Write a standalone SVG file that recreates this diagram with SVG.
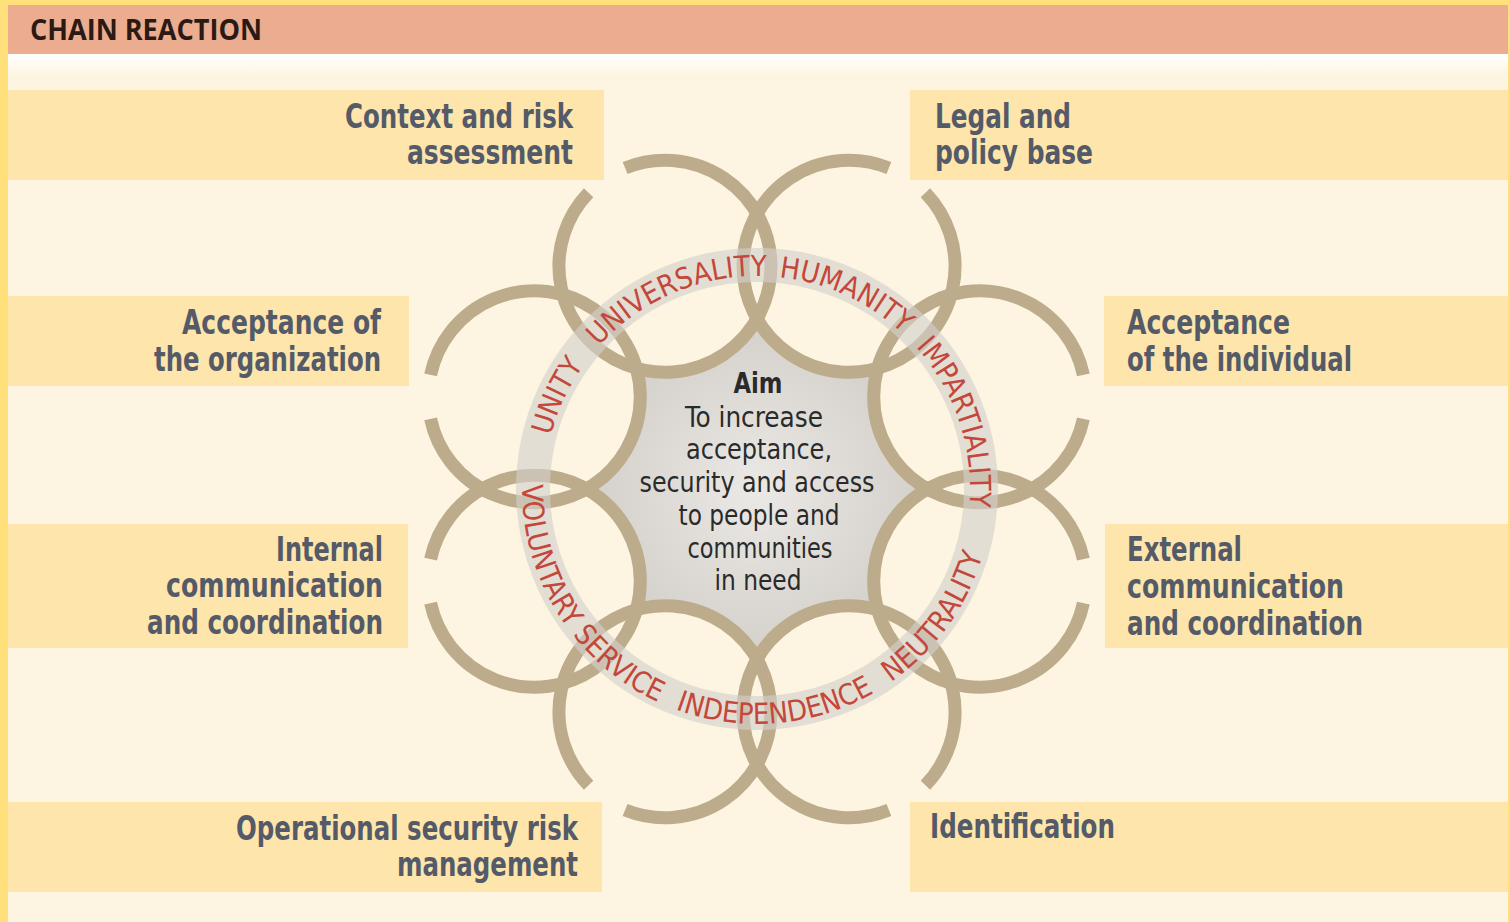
<svg xmlns="http://www.w3.org/2000/svg" width="1510" height="922" viewBox="0 0 1510 922">
<style>
.band{fill:#fde5ab}
.lbl{font-family:"Liberation Sans Narrow","DejaVu Sans Condensed","Liberation Sans",sans-serif;font-weight:bold;font-size:33px;fill:#545a68}
.r{text-anchor:end}
.link{fill:none;stroke:#bdac8c;stroke-width:13}
.prin{font-family:"Liberation Sans Narrow","DejaVu Sans Condensed","Liberation Sans",sans-serif;font-size:29px;fill:#c4473b}
.aim{font-family:"Liberation Sans Narrow","DejaVu Sans Condensed","Liberation Sans",sans-serif;font-size:28px;fill:#2a2a2a;text-anchor:middle}
</style>
<defs>
<linearGradient id="hdrfade" x1="0" y1="0" x2="0" y2="1">
<stop offset="0" stop-color="#ffffff"/>
<stop offset="1" stop-color="#fdf5e1"/>
</linearGradient>
<radialGradient id="core" cx="757" cy="489" r="175" gradientUnits="userSpaceOnUse">
<stop offset="0" stop-color="#ebe9e6"/>
<stop offset="1" stop-color="#d3cfc9"/>
</radialGradient>
<mask id="coremask" maskUnits="userSpaceOnUse" x="0" y="0" width="1510" height="922">
<rect x="0" y="0" width="1510" height="922" fill="#fff"/>
<g fill="#000">
<circle cx="664.8" cy="266.3" r="106"/>
<circle cx="849.2" cy="266.3" r="106"/>
<circle cx="979.7" cy="396.8" r="106"/>
<circle cx="979.7" cy="581.2" r="106"/>
<circle cx="849.2" cy="711.7" r="106"/>
<circle cx="664.8" cy="711.7" r="106"/>
<circle cx="534.3" cy="581.2" r="106"/>
<circle cx="534.3" cy="396.8" r="106"/>
</g>
</mask>
<path id="ringTop" d="M 757 702 A 213 213 0 1 1 757 276 A 213 213 0 1 1 757 702"/>
<path id="ringBot" d="M 757 254 A 235 235 0 1 0 757 724 A 235 235 0 1 0 757 254"/>
</defs>

<rect x="0" y="0" width="1510" height="922" fill="#ffe07a"/>
<rect x="8" y="5" width="1500" height="917" fill="#fdf5e1"/>
<rect x="8" y="54" width="1500" height="22" fill="url(#hdrfade)"/>
<g id="header">
<rect x="8" y="5" width="1500" height="49" fill="#ecac90"/>
<text x="30" y="40" font-family="'Open Sans','Liberation Sans',sans-serif" font-weight="bold" font-size="29" fill="#2b1a14" textLength="232" lengthAdjust="spacingAndGlyphs">CHAIN REACTION</text>
</g>

<g id="node-context">
<rect class="band" x="8" y="90" width="596" height="90"/>
<text class="lbl r" x="573" y="128" textLength="228" lengthAdjust="spacingAndGlyphs">Context and risk</text>
<text class="lbl r" x="573" y="164" textLength="166" lengthAdjust="spacingAndGlyphs">assessment</text>
</g>
<g id="node-legal">
<rect class="band" x="910" y="90" width="598" height="90"/>
<text class="lbl" x="935" y="128" textLength="136" lengthAdjust="spacingAndGlyphs">Legal and</text>
<text class="lbl" x="935" y="164" textLength="158" lengthAdjust="spacingAndGlyphs">policy base</text>
</g>
<g id="node-acc-org">
<rect class="band" x="8" y="296" width="401" height="90"/>
<text class="lbl r" x="381" y="334" textLength="199" lengthAdjust="spacingAndGlyphs">Acceptance of</text>
<text class="lbl r" x="381" y="371" textLength="227" lengthAdjust="spacingAndGlyphs">the organization</text>
</g>
<g id="node-acc-ind">
<rect class="band" x="1104" y="296" width="404" height="90"/>
<text class="lbl" x="1127" y="334" textLength="163" lengthAdjust="spacingAndGlyphs">Acceptance</text>
<text class="lbl" x="1127" y="371" textLength="225" lengthAdjust="spacingAndGlyphs">of the individual</text>
</g>
<g id="node-internal">
<rect class="band" x="8" y="524" width="400" height="124"/>
<text class="lbl r" x="383" y="561" textLength="107" lengthAdjust="spacingAndGlyphs">Internal</text>
<text class="lbl r" x="383" y="597" textLength="217" lengthAdjust="spacingAndGlyphs">communication</text>
<text class="lbl r" x="383" y="634" textLength="236" lengthAdjust="spacingAndGlyphs">and coordination</text>
</g>
<g id="node-external">
<rect class="band" x="1105" y="524" width="403" height="124"/>
<text class="lbl" x="1127" y="561" textLength="115" lengthAdjust="spacingAndGlyphs">External</text>
<text class="lbl" x="1127" y="598" textLength="217" lengthAdjust="spacingAndGlyphs">communication</text>
<text class="lbl" x="1127" y="635" textLength="236" lengthAdjust="spacingAndGlyphs">and coordination</text>
</g>
<g id="node-operational">
<rect class="band" x="8" y="802" width="594" height="90"/>
<text class="lbl r" x="578" y="840" textLength="342" lengthAdjust="spacingAndGlyphs">Operational security risk</text>
<text class="lbl r" x="578" y="876" textLength="181" lengthAdjust="spacingAndGlyphs">management</text>
</g>
<g id="node-identification">
<rect class="band" x="910" y="802" width="598" height="90"/>
<text class="lbl" x="930" y="838" textLength="185" lengthAdjust="spacingAndGlyphs">Identification</text>
</g>

<g id="aim-core">
<circle cx="757" cy="489" r="200" fill="url(#core)" mask="url(#coremask)"/>
</g>

<g id="connectors">
<path class="link" d="M 625.1 168.0 A 106 106 0 1 1 588.6 192.7"/>
<path class="link" d="M 925.4 192.7 A 106 106 0 1 1 888.9 168.0"/>
<path class="link" d="M 1083.4 418.8 A 106 106 0 1 1 1083.4 374.8"/>
<path class="link" d="M 1083.4 603.2 A 106 106 0 1 1 1083.4 559.2"/>
<path class="link" d="M 888.9 810.0 A 106 106 0 1 1 925.4 785.3"/>
<path class="link" d="M 588.6 785.3 A 106 106 0 1 1 625.1 810.0"/>
<path class="link" d="M 430.6 559.2 A 106 106 0 1 1 430.6 603.2"/>
<path class="link" d="M 430.6 374.8 A 106 106 0 1 1 430.6 418.8"/>
</g>

<g id="principles">
<circle cx="757" cy="489" r="224" fill="none" stroke="#d3d0cc" stroke-opacity="0.62" stroke-width="34"/>
<text class="prin" text-anchor="middle"><textPath href="#ringTop" startOffset="31.94%">UNITY</textPath></text>
<text class="prin" text-anchor="middle"><textPath href="#ringTop" startOffset="43.69%">UNIVERSALITY</textPath></text>
<text class="prin" text-anchor="middle"><textPath href="#ringTop" startOffset="56.81%">HUMANITY</textPath></text>
<text class="prin" text-anchor="middle"><textPath href="#ringTop" startOffset="69.86%">IMPARTIALITY</textPath></text>
<text class="prin" text-anchor="middle"><textPath href="#ringBot" startOffset="33.89%">VOLUNTARY SERVICE</textPath></text>
<text class="prin" text-anchor="middle"><textPath href="#ringBot" startOffset="51.33%">INDEPENDENCE</textPath></text>
<text class="prin" text-anchor="middle"><textPath href="#ringBot" startOffset="65.06%">NEUTRALITY</textPath></text>
</g>

<g id="node-aim">
<text class="aim" x="758" y="393" font-weight="bold" textLength="49" lengthAdjust="spacingAndGlyphs">Aim</text>
<text class="aim" x="754" y="427" textLength="138" lengthAdjust="spacingAndGlyphs">To increase</text>
<text class="aim" x="759" y="459" textLength="146" lengthAdjust="spacingAndGlyphs">acceptance,</text>
<text class="aim" x="757" y="492" textLength="235" lengthAdjust="spacingAndGlyphs">security and access</text>
<text class="aim" x="759" y="525" textLength="161" lengthAdjust="spacingAndGlyphs">to people and</text>
<text class="aim" x="760" y="558" textLength="145" lengthAdjust="spacingAndGlyphs">communities</text>
<text class="aim" x="758" y="590" textLength="87" lengthAdjust="spacingAndGlyphs">in need</text>
</g>
</svg>
